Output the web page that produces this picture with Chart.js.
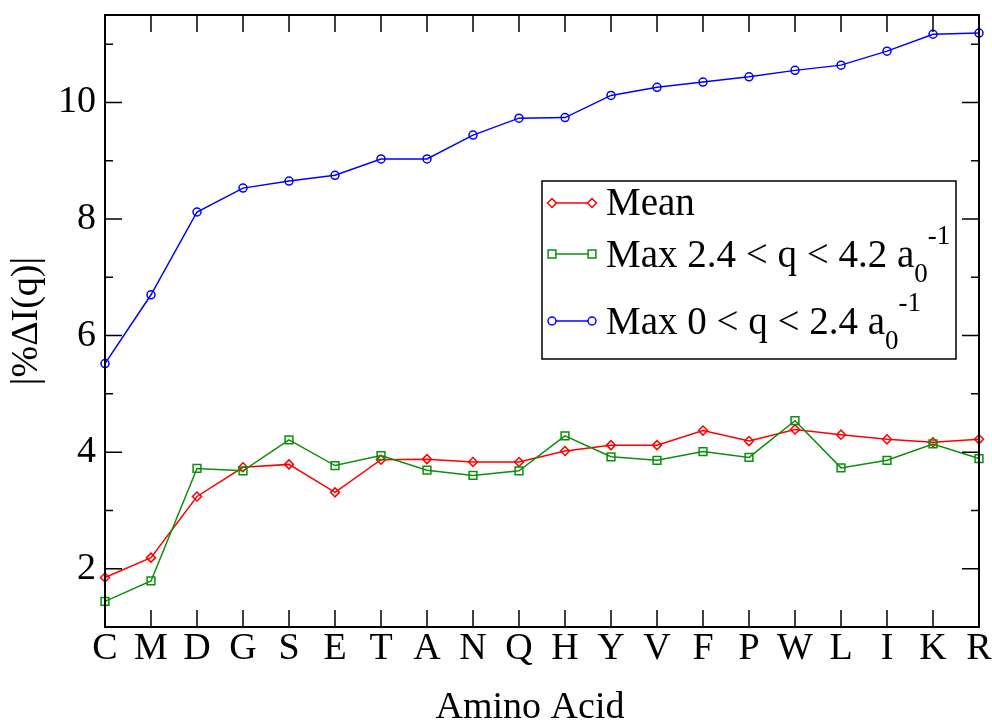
<!DOCTYPE html>
<html>
<head>
<meta charset="utf-8">
<script src="https://cdn.jsdelivr.net/npm/chart.js@4"></script>
<style>
  html, body { margin: 0; padding: 0; background: #fff; }
  #wrap { width: 992px; height: 724px; }
</style>
</head>
<body>
<div id="wrap"><canvas id="myChart"></canvas></div>
<script>
const aminoAcids = ['C', 'M', 'D', 'G', 'S', 'E', 'T', 'A', 'N', 'Q', 'H', 'Y', 'V', 'F', 'P', 'W', 'L', 'I', 'K', 'R'];
const meanValues = [1.85, 2.19, 3.24, 3.74, 3.79, 3.31, 3.87, 3.88, 3.83, 3.83, 4.02, 4.12, 4.12, 4.37, 4.19, 4.39, 4.30, 4.22, 4.17, 4.22];
const maxHighQ = [1.44, 1.79, 3.72, 3.68, 4.21, 3.77, 3.94, 3.69, 3.60, 3.68, 4.28, 3.92, 3.86, 4.01, 3.91, 4.54, 3.73, 3.86, 4.14, 3.89];
const maxLowQ = [5.52, 6.70, 8.12, 8.53, 8.65, 8.75, 9.03, 9.03, 9.44, 9.73, 9.74, 10.12, 10.26, 10.35, 10.44, 10.55, 10.64, 10.88, 11.17, 11.19];
const yLabelValues = [2, 4, 6, 8, 10];

const serif = '"Liberation Serif", "Times New Roman", serif';
const RED = '#ff0000', GREEN = '#0a8f0a', BLUE = '#0000ff';

function drawMarker(ctx, style, x, y, r, color) {
  ctx.save();
  ctx.strokeStyle = color;
  ctx.lineWidth = 1.5;
  ctx.beginPath();
  if (style === 'circle') {
    ctx.arc(x, y, r, 0, Math.PI * 2);
  } else if (style === 'rect') {
    const s = r * Math.SQRT1_2;
    ctx.rect(x - s, y - s, 2 * s, 2 * s);
  } else {
    ctx.moveTo(x - r, y); ctx.lineTo(x, y - r); ctx.lineTo(x + r, y); ctx.lineTo(x, y + r); ctx.closePath();
  }
  ctx.fillStyle = '#fff';
  ctx.fill();
  ctx.stroke();
  ctx.restore();
}

// text pieces: [text, dy, size]
function drawRich(ctx, parts, x, y) {
  parts.forEach(([t, dy, size]) => {
    ctx.font = size + 'px ' + serif;
    ctx.fillText(t, x, y + dy);
    x += ctx.measureText(t).width;
  });
}

const frame = {
  id: 'frame',
  afterDatasetsDraw(chart) {
    const { ctx, chartArea: a, scales: { x, y } } = chart;
    ctx.save();
    ctx.strokeStyle = '#000';
    ctx.lineWidth = 1.5;
    ctx.beginPath();
    for (let v = 1; v <= 11; v++) {
      const py = y.getPixelForValue(v);
      const len = v % 2 ? 8 : 17;
      ctx.moveTo(a.left, py); ctx.lineTo(a.left + len, py);
      ctx.moveTo(a.right, py); ctx.lineTo(a.right - len, py);
    }
    aminoAcids.forEach((c, i) => {
      const px = x.getPixelForValue(i);
      ctx.moveTo(px, a.top); ctx.lineTo(px, a.top + 17);
      ctx.moveTo(px, a.bottom); ctx.lineTo(px, a.bottom - 17);
    });
    ctx.stroke();
    ctx.lineWidth = 2;
    ctx.strokeRect(a.left, a.top, a.width, a.height);

    // x axis title, sits a bit left of the plot centre like the original
    ctx.fillStyle = '#000';
    ctx.font = '38px ' + serif;
    ctx.textAlign = 'center';
    ctx.textBaseline = 'alphabetic';
    ctx.fillText('Amino Acid', (a.left + a.right) / 2 - 12, 718);
    ctx.restore();
  }
};

const boxLegend = {
  id: 'boxLegend',
  afterDraw(chart) {
    const { ctx, chartArea: a } = chart;
    const bx = a.left + 437, by = a.top + 166, bw = 414, bh = 178;
    ctx.save();
    ctx.fillStyle = '#fff';
    ctx.fillRect(bx, by, bw, bh);
    ctx.strokeStyle = '#000';
    ctx.lineWidth = 1.5;
    ctx.strokeRect(bx, by, bw, bh);
    const entries = [
      { color: RED, style: 'rectRot', r: 4.5, ly: 22, ty: 34, parts: [['Mean', 0, 39]] },
      { color: GREEN, style: 'rect', r: 5.5, ly: 73, ty: 86, parts: [['Max 2.4 < q < 4.2 a', 0, 39], ['0', 15, 27], ['-1', -23, 27]] },
      { color: BLUE, style: 'circle', r: 4, ly: 140, ty: 153, parts: [['Max 0 < q < 2.4 a', 0, 39], ['0', 15, 27], ['-1', -23, 27]] }
    ];
    entries.forEach(e => {
      ctx.strokeStyle = e.color;
      ctx.lineWidth = 1.5;
      ctx.beginPath();
      ctx.moveTo(bx + 10, by + e.ly); ctx.lineTo(bx + 50, by + e.ly);
      ctx.stroke();
      drawMarker(ctx, e.style, bx + 10, by + e.ly, e.r, e.color);
      drawMarker(ctx, e.style, bx + 50, by + e.ly, e.r, e.color);
      ctx.fillStyle = '#000';
      ctx.textBaseline = 'alphabetic';
      ctx.textAlign = 'left';
      drawRich(ctx, e.parts, bx + 64, by + e.ty);
    });
    ctx.restore();
  }
};

function series(label, data, color, style, radius) {
  return {
    label, data,
    borderColor: color,
    backgroundColor: '#fff',
    borderWidth: 1.5,
    pointStyle: style,
    pointRadius: radius,
    pointBorderWidth: 1.5,
    pointBorderColor: color,
    pointBackgroundColor: 'rgba(255,255,255,0)',
    tension: 0,
    clip: false
  };
}

const ctx = document.getElementById('myChart');
new Chart(ctx, {
  type: 'line',
  data: {
    labels: aminoAcids,
    datasets: [
      series('Max 0 < q < 2.4 a0-1', maxLowQ, BLUE, 'circle', 4),
      series('Max 2.4 < q < 4.2 a0-1', maxHighQ, GREEN, 'rect', 5.5),
      series('Mean', meanValues, RED, 'rectRot', 4.5)
    ]
  },
  options: {
    responsive: true,
    maintainAspectRatio: false,
    animation: false,
    layout: { padding: { left: 0, right: 13, top: 15, bottom: 0 } },
    plugins: {
      legend: { display: false },
      tooltip: { enabled: false }
    },
    scales: {
      x: {
        offset: false,
        grid: { display: false, drawTicks: false },
        border: { display: false },
        afterFit: s => { s.height = 97; s.paddingLeft = 0; s.paddingRight = 0; },
        ticks: {
          autoSkip: false, maxRotation: 0, padding: 0, color: '#000',
          font: { family: serif, size: 38, lineHeight: 1.15 }
        },
        title: { display: false }
      },
      y: {
        min: 1, max: 11.5,
        grid: { display: false, drawTicks: false },
        border: { display: false },
        afterFit: s => { s.width = 105; s.paddingTop = 0; s.paddingBottom = 0; },
        ticks: {
          stepSize: 1, padding: 9, color: '#000',
          font: { family: serif, size: 38 },
          callback: v => (yLabelValues.includes(v) ? v : '')
        },
        title: {
          display: true, text: '|%ΔI(q)|', color: '#000',
          font: { family: serif, size: 38, lineHeight: 1 },
          padding: { top: 8, bottom: 0 }
        }
      }
    }
  },
  plugins: [frame, boxLegend]
});
</script>
</body>
</html>
